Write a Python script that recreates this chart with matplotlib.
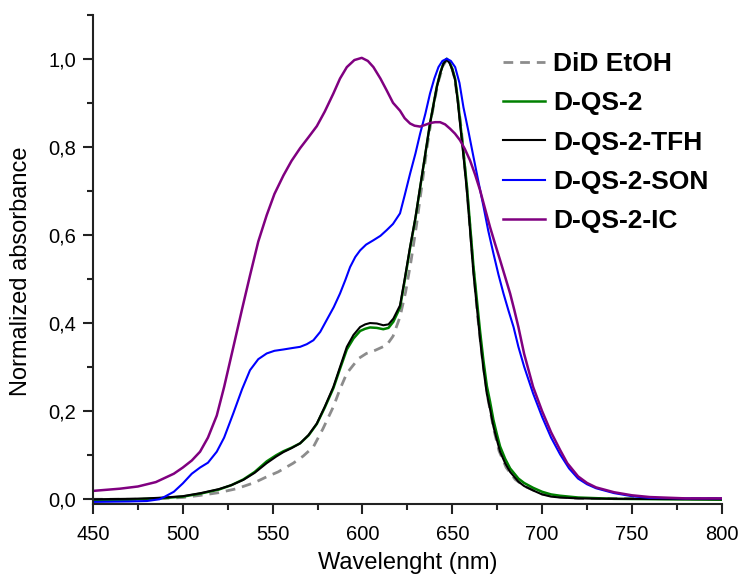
import matplotlib
matplotlib.use("Agg")
import matplotlib.pyplot as plt
from matplotlib.ticker import MultipleLocator, FuncFormatter

plt.rcParams['font.family'] = ['Liberation Sans', 'DejaVu Sans']

# wavelength (nm) / normalized absorbance
wl_did = [450, 480, 500, 510, 520, 530, 540, 546.7, 553, 561.5, 567, 572.7, 578, 583.8,
          587.5, 591.3, 595, 598, 602.2, 607, 613.5, 617, 620.9, 624, 627, 630, 633, 636,
          639, 642, 645, 647, 649, 651, 653, 655, 658, 661, 664, 667, 670, 673, 676, 680,
          685, 690, 700, 710, 720, 800]
did = [0.0, 0.0, 0.004, 0.009, 0.015, 0.024, 0.038, 0.051, 0.062, 0.082, 0.098, 0.119,
       0.160, 0.210, 0.250, 0.286, 0.305, 0.320, 0.331, 0.338, 0.350, 0.370, 0.414, 0.470,
       0.540, 0.620, 0.710, 0.800, 0.880, 0.945, 0.985, 0.998, 0.990, 0.960, 0.910, 0.840,
       0.710, 0.560, 0.420, 0.310, 0.225, 0.160, 0.110, 0.072, 0.045, 0.030, 0.012, 0.005,
       0.002, 0.001]

wl_qs = [450, 470, 480, 490, 500, 510, 520, 527, 533.7, 540, 546.7, 552, 556, 560.5, 565.3,
         570, 574.6, 579, 583.8, 587.5, 591.3, 595, 598.7, 601.5, 604.2, 608, 611.6, 614.5,
         617.2, 620.9, 623.5, 626.5, 629.5, 632.1, 635, 637.6, 639.5, 641.4, 643.3, 645.1,
         646.9, 648.5, 650, 651.6, 653, 654.3, 656.2, 658.1, 660, 661.8, 663.7, 665.5, 667.3,
         669.2, 671, 672.9, 674.8, 676.6, 679.4, 682.2, 686.8, 690, 695, 700, 705, 710, 720,
         740, 800]
tfh = [0.0, 0.001, 0.002, 0.004, 0.007, 0.014, 0.023, 0.032, 0.044, 0.060, 0.082, 0.097,
       0.107, 0.116, 0.127, 0.146, 0.172, 0.210, 0.255, 0.300, 0.346, 0.373, 0.391, 0.397,
       0.400, 0.399, 0.395, 0.397, 0.410, 0.440, 0.500, 0.573, 0.640, 0.709, 0.785, 0.853,
       0.895, 0.936, 0.967, 0.989, 0.998, 0.990, 0.975, 0.951, 0.905, 0.853, 0.780, 0.701,
       0.605, 0.512, 0.435, 0.361, 0.297, 0.240, 0.205, 0.165, 0.135, 0.108, 0.082, 0.062,
       0.040, 0.030, 0.020, 0.011, 0.006, 0.004, 0.002, 0.001, 0.0]
qs2 = [-0.003, -0.001, 0.001, 0.003, 0.006, 0.013, 0.022, 0.032, 0.045, 0.062, 0.086, 0.100,
       0.109, 0.117, 0.127, 0.145, 0.171, 0.208, 0.252, 0.296, 0.340, 0.365, 0.382, 0.387,
       0.390, 0.389, 0.386, 0.389, 0.403, 0.435, 0.496, 0.570, 0.638, 0.707, 0.784, 0.853,
       0.895, 0.937, 0.968, 0.990, 1.000, 0.992, 0.977, 0.954, 0.910, 0.860, 0.788, 0.712,
       0.618, 0.528, 0.452, 0.380, 0.316, 0.258, 0.222, 0.180, 0.148, 0.120, 0.092, 0.070,
       0.047, 0.037, 0.026, 0.017, 0.011, 0.008, 0.004, 0.001, -0.001]

wl_son = [450, 470, 480, 487, 490, 495, 500, 505, 509.6, 514, 518.9, 523, 528.1, 533, 537.4,
          542, 546.7, 551, 556, 560.5, 565.3, 569, 572.7, 576.5, 580.1, 584, 587.5, 590.5,
          593.1, 596, 598.7, 602, 606.1, 610, 613.5, 617, 620.9, 623.5, 626.5, 629.5, 632.1,
          635, 637.6, 640, 642.3, 644.5, 646.9, 649.2, 651.6, 654, 656.2, 659, 661.8, 664.6,
          667.4, 670, 672.9, 675.7, 678.5, 681.3, 684.1, 686.8, 690, 695, 700, 705, 710, 715,
          720, 725, 730, 740, 750, 760, 780, 800]
son = [-0.006, -0.005, -0.004, 0.0, 0.006, 0.017, 0.036, 0.058, 0.072, 0.083, 0.108, 0.140,
       0.195, 0.250, 0.293, 0.318, 0.331, 0.337, 0.340, 0.343, 0.346, 0.352, 0.361, 0.380,
       0.407, 0.436, 0.467, 0.498, 0.527, 0.550, 0.565, 0.578, 0.588, 0.598, 0.611, 0.625,
       0.649, 0.690, 0.739, 0.785, 0.830, 0.875, 0.921, 0.955, 0.981, 0.995, 1.000, 0.995,
       0.981, 0.945, 0.890, 0.835, 0.777, 0.720, 0.664, 0.610, 0.558, 0.510, 0.467, 0.428,
       0.391, 0.346, 0.301, 0.240, 0.187, 0.140, 0.102, 0.070, 0.047, 0.034, 0.025, 0.014,
       0.007, 0.003, 0.002, 0.002]

wl_ic = [450, 465, 475, 485, 495, 500, 505, 509.6, 514, 518.9, 523, 528.1, 533, 537.4, 542,
         546.7, 551, 556, 560.5, 565.3, 570, 574.6, 579, 583.8, 587.5, 591.3, 595.5, 599.6,
         603, 606.1, 610, 613.5, 617, 620.9, 623.5, 626.5, 629, 632.1, 635, 637.6, 640.5,
         643.2, 646, 648.8, 651.5, 654.3, 657, 659.9, 662.7, 665.5, 668.2, 671, 673.8, 676.6,
         679.4, 682.2, 684.5, 686.8, 690, 695, 700, 705, 710, 714, 720, 725, 730, 740, 750,
         760, 780, 800]
ic = [0.019, 0.024, 0.029, 0.039, 0.058, 0.072, 0.088, 0.108, 0.140, 0.190, 0.255, 0.345,
      0.432, 0.508, 0.585, 0.645, 0.693, 0.735, 0.768, 0.797, 0.822, 0.847, 0.880, 0.921,
      0.955, 0.981, 0.997, 1.002, 0.995, 0.981, 0.955, 0.928, 0.900, 0.882, 0.865, 0.853,
      0.848, 0.846, 0.850, 0.854, 0.856, 0.856, 0.851, 0.841, 0.830, 0.815, 0.795, 0.769,
      0.737, 0.701, 0.660, 0.618, 0.580, 0.543, 0.505, 0.467, 0.430, 0.391, 0.330, 0.255,
      0.200, 0.152, 0.112, 0.082, 0.052, 0.037, 0.027, 0.016, 0.009, 0.005, 0.002, 0.002]

fig = plt.figure(figsize=(7.38, 5.78), dpi=100)
ax = fig.add_axes([0.126, 0.1286, 0.852, 0.846])

h_did, = ax.plot(wl_did, did, color='#8c8c8c', lw=2.0, ls=(0, (3.5, 2.5)), label='DiD EtOH')
h_qs2, = ax.plot(wl_qs, qs2, color='#008000', lw=1.8, label='D-QS-2')
h_tfh, = ax.plot(wl_qs, tfh, color='black', lw=1.5, label='D-QS-2-TFH')
h_son, = ax.plot(wl_son, son, color='#0000ff', lw=1.5, label='D-QS-2-SON')
h_ic, = ax.plot(wl_ic, ic, color='#800080', lw=1.8, label='D-QS-2-IC')

ax.set_xlim(450, 800)
ax.set_ylim(-0.01, 1.1)
ax.spines['top'].set_visible(False)
ax.spines['right'].set_visible(False)
for s in ('left', 'bottom'):
    ax.spines[s].set_linewidth(1.5)
    ax.spines[s].set_color('#222222')

ax.xaxis.set_major_locator(MultipleLocator(50))
ax.xaxis.set_minor_locator(MultipleLocator(25))
ax.yaxis.set_major_locator(MultipleLocator(0.2))
ax.yaxis.set_minor_locator(MultipleLocator(0.1))
ax.yaxis.set_major_formatter(FuncFormatter(lambda v, p: f"{v:.1f}".replace('.', ',')))
ax.tick_params(which='major', direction='out', length=7, width=1.5, labelsize=14.5, color='#222222')
ax.tick_params(which='minor', direction='out', length=4, width=1.5, color='#222222')
ax.tick_params(axis='y', pad=5)
ax.tick_params(axis='x', pad=8)

ax.set_xlabel('Wavelenght (nm)', fontsize=17, labelpad=6)
ax.set_ylabel('Normalized absorbance', fontsize=17)
ax.yaxis.set_label_coords(-0.097, 0.476)

leg = fig.legend(handles=[h_did, h_qs2, h_tfh, h_son, h_ic], loc='upper left',
                 bbox_to_anchor=(503 / 738, 1 - 52 / 578), frameon=False,
                 borderpad=0, borderaxespad=0,
                 prop={'weight': 'bold', 'size': 19}, handlelength=1.6,
                 handletextpad=0.3, labelspacing=0.58)

fig.savefig('out.png', dpi=100)
